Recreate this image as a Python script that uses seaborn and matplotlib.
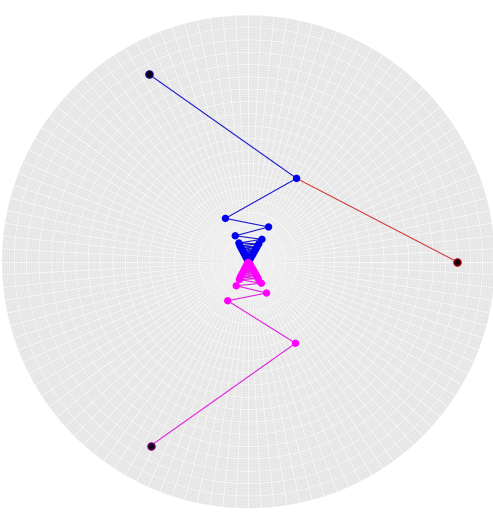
import numpy as np
import pandas as pd
import seaborn as sns
import matplotlib.pyplot as plt
from matplotlib.ticker import MultipleLocator

# angles in degrees, radii (outer point = 1.0)
up_theta = [118, 60, 118, 60, 117, 59, 117, 60, 118, 60, 118, 60, 118, 60, 118, 60, 118, 60, 118, 60, 118, 60, 118]
up_r = [1.0, 0.453, 0.231, 0.189, 0.137, 0.123, 0.099, 0.097, 0.085, 0.080, 0.072, 0.067,
        0.060, 0.055, 0.048, 0.043, 0.037, 0.032, 0.026, 0.021, 0.015, 0.010, 0.005]
low_theta = [-118, -60, -118, -60, -117, -59, -117, -60, -118, -60, -118, -60, -118, -60, -118, -60, -118, -60, -118, -60, -118, -60, -118]
low_r = [0.981, 0.443, 0.208, 0.170, 0.127, 0.118, 0.094, 0.092, 0.082, 0.077, 0.069, 0.064,
         0.057, 0.052, 0.046, 0.041, 0.035, 0.030, 0.024, 0.019, 0.014, 0.009, 0.004]
red_theta = [60, 0]
red_r = [0.453, 0.981]

up = pd.DataFrame({"theta": np.radians(up_theta), "r": up_r})
low = pd.DataFrame({"theta": np.radians(low_theta), "r": low_r})
red = pd.DataFrame({"theta": np.radians(red_theta), "r": red_r})

sns.set_theme(style="darkgrid")
fig = plt.figure(figsize=(4.93, 5.17), dpi=100)
ax = fig.add_axes([0.004, 0.014, 1.0, 0.9595], projection="polar")
ax.set_facecolor("#E5E5E5")
ax.spines["polar"].set_visible(False)

rmax = 1.16
ax.set_ylim(0, rmax)
ax.yaxis.set_major_locator(MultipleLocator(rmax / 20))
ax.yaxis.set_minor_locator(MultipleLocator(rmax / 100))
ax.xaxis.set_major_locator(MultipleLocator(np.radians(3)))
ax.xaxis.set_minor_locator(MultipleLocator(np.radians(1)))
ax.grid(which="major", axis="y", color="#FAFAFA", linewidth=0.55)
ax.grid(which="minor", axis="y", color="#F2F2F2", linewidth=0.35)
ax.grid(which="major", axis="x", color="#FAFAFA", linewidth=0.6)
ax.grid(which="minor", axis="x", color="#EEEEEE", linewidth=0.25)
ax.set_xticklabels([])
ax.set_yticklabels([])
ax.tick_params(length=0)

kw = dict(x="theta", y="r", sort=False, estimator=None, errorbar=None, lw=0.8, ax=ax)
sns.lineplot(data=red, color="#d04040", **kw)
sns.lineplot(data=up, color="#1a1acc", **kw)
sns.lineplot(data=low, color="#e020e0", **kw)

sns.scatterplot(data=up.iloc[1:], x="theta", y="r", color="#0000ee", s=28, edgecolor="none", ax=ax, zorder=3)
sns.scatterplot(data=low.iloc[1:], x="theta", y="r", color="#ff00ff", s=28, edgecolor="none", ax=ax, zorder=3)

# the three end points are dark with a coloured rim
ends = pd.DataFrame({"theta": [up.theta[0], low.theta[0], red.theta[1]],
                     "r": [up.r[0], low.r[0], red.r[1]],
                     "rim": ["#000080", "#800080", "#aa0000"]})
for _, row in ends.iterrows():
    ax.scatter(row.theta, row.r, s=28, color="#100010", edgecolor=row.rim, linewidth=0.8, zorder=4)

ax.set_xlabel("")
ax.set_ylabel("")
fig.savefig("out.png", dpi=100)
